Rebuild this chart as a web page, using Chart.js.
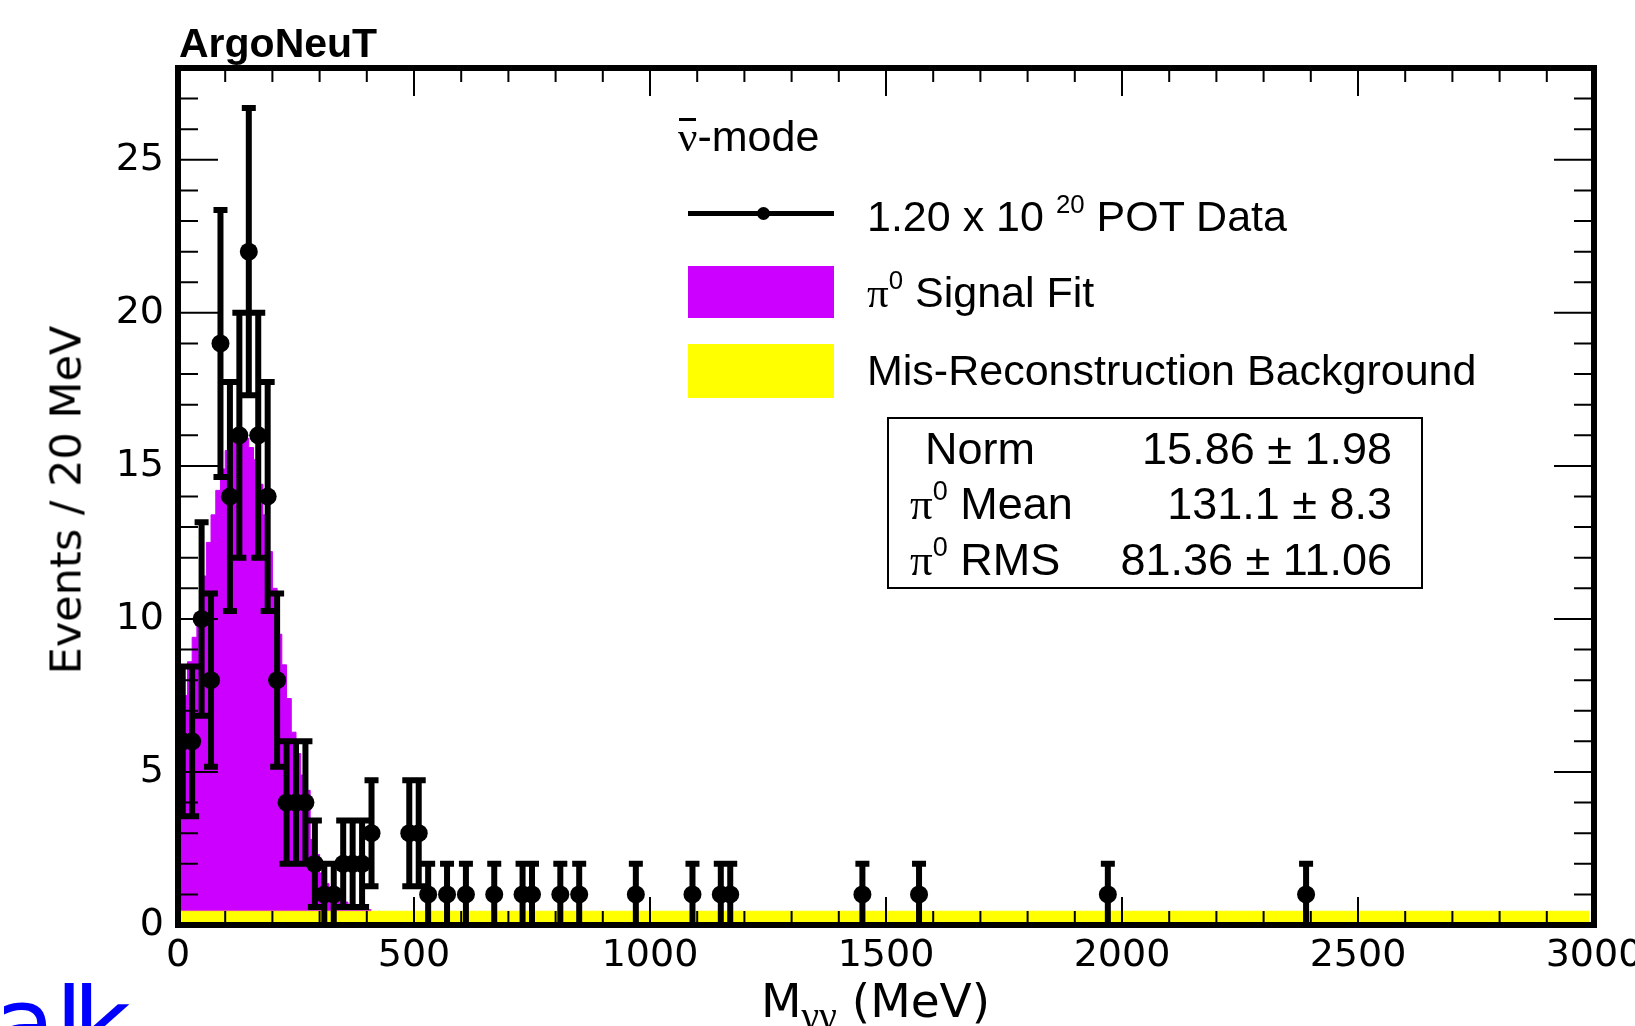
<!DOCTYPE html>
<html>
<head>
<meta charset="utf-8">
<script src="https://cdn.jsdelivr.net/npm/chart.js@4.4.1/dist/chart.umd.min.js"></script>
<style>
    html, body { margin: 0; padding: 0; background: #fff; overflow: hidden; }
    #wrap { position: relative; width: 1635px; height: 1026px; overflow: hidden; background: #fff; }
    #chart { position: absolute; left: 0; top: 0; }
    .txt { position: absolute; white-space: nowrap; line-height: 1; color: #000;
           font-family: 'Liberation Sans', Arial, sans-serif; font-size: 43px; }
    .stat { font-size: 45px; }
    .greek { font-family: 'Liberation Serif', serif; }
    .sup { font-size: 0.6em; position: relative; top: -0.7em; }
    .sub { font-size: 0.85em; position: relative; top: 0.3em; }
    .box { position: absolute; }
    .nubar { position: relative; display: inline-block; }
    .nubar .bar { position: absolute; left: 1px; right: 1px; top: 3px; height: 3px; background: #000; }
</style>
</head>
<body>
<div id="wrap">
    <canvas id="chart" width="1635" height="1026"></canvas>

    <div class="txt" style="left:179px; top:23px; font-size:41px; font-weight:bold;">ArgoNeuT</div>

    <!-- Legend -->
    <div class="txt" style="left:678px; top:115px;"><span class="nubar greek">ν<span class="bar"></span></span>-mode</div>
    <div class="box" style="left:688px; top:211px; width:146px; height:5px; background:#000;"></div>
    <div class="box" style="left:757px; top:207px; width:13px; height:13px; border-radius:50%; background:#000;"></div>
    <div class="txt" style="left:867px; top:195px;">1.20 x 10 <span class="sup">20</span> POT Data</div>

    <div class="box" style="left:688px; top:266px; width:146px; height:52px; background:#cc00ff;"></div>
    <div class="txt" style="left:867px; top:271px;"><span class="greek">π</span><span class="sup">0</span> Signal Fit</div>

    <div class="box" style="left:688px; top:344px; width:146px; height:54px; background:#ffff00;"></div>
    <div class="txt" style="left:867px; top:349px;">Mis-Reconstruction Background</div>

    <!-- Fit parameters box -->
    <div class="box" style="left:887px; top:417px; width:532px; height:168px; border:2px solid #000;"></div>
    <div class="txt stat" style="left:925px; top:426px;">Norm</div>
    <div class="txt stat" style="right:243px; top:426px;">15.86 ± 1.98</div>
    <div class="txt stat" style="left:910px; top:481px;"><span class="greek">π</span><span class="sup">0</span> Mean</div>
    <div class="txt stat" style="right:243px; top:481px;">131.1 ± 8.3</div>
    <div class="txt stat" style="left:910px; top:537px;"><span class="greek">π</span><span class="sup">0</span> RMS</div>
    <div class="txt stat" style="right:243px; top:537px;">81.36 ± 11.06</div>

    <!-- Axis titles -->
    <div class="txt" style="left:66px; top:500px; font-family:'DejaVu Sans', sans-serif; font-size:43px; transform: translate(-50%, -50%) rotate(-90deg);">Events / 20 MeV</div>
    <div class="txt" style="left:761px; top:977px; font-family:'DejaVu Sans', sans-serif; font-size:47px;">M<span class="sub greek">γγ</span> (MeV)</div>

    <div class="txt" style="left:-6px; top:975px; font-family:'DejaVu Sans', sans-serif; font-size:100px; color:#0000ff;">a<span style="letter-spacing:-10px;">l</span>k</div>
</div>

<script>
// ===================================
// ArgoNeuT pi0 invariant mass
// ===================================

// Data: 20 MeV bins (bin centres, MeV) and event counts
const massBins = [10, 30, 50, 70, 90, 110, 130, 150, 170, 190, 210, 230, 250, 270, 290, 310, 330,
                  350, 370, 390, 410, 490, 510, 530, 570, 610, 670, 730, 750, 810, 850, 970,
                  1090, 1150, 1170, 1450, 1570, 1970, 2390];
const eventCounts = [6, 6, 10, 8, 19, 14, 16, 22, 16, 14, 8, 4, 4, 4, 2, 1, 1,
                     2, 2, 2, 3, 3, 3, 1, 1, 1, 1, 1, 1, 1, 1, 1,
                     1, 1, 1, 1, 1, 1, 1];

// Signal fit drawn in 10 MeV steps from 0 MeV (top of the magenta area, events)
const fitStep = 10;
const signalFitTop = [3.5, 7.5, 8.6, 9.4, 10.2, 11.4, 12.5, 13.4, 14.2, 14.9,
                      15.5, 15.8, 16.0, 16.0, 15.9, 15.6, 15.2, 14.4, 13.4, 12.2,
                      11.0, 9.5, 8.5, 7.4, 6.3, 5.6, 4.9, 4.4, 2.8, 2.3,
                      1.7, 1.35, 1.1, 0.95, 0.85, 0.75, 0.68, 0.62, 0.57, 0.53, 0.5];

// Mis-reconstruction background (flat band)
const bkgRange = [0, 2990];
const bkgLevel = 0.45;

// Axes
const xTickValues = [0, 500, 1000, 1500, 2000, 2500, 3000];
const yTickValues = [0, 5, 10, 15, 20, 25];
const xRange = [0, 3000];
const yRange = [0, 28];

// Build step points (left bin edges + closing edge)
const signalPoints = signalFitTop.map((v, i) => ({ x: i * fitStep, y: v }));
signalPoints.push({ x: signalFitTop.length * fitStep, y: signalFitTop[signalFitTop.length - 1] });

const dataPoints = massBins.map((m, i) => ({ x: m, y: eventCounts[i] }));

// ROOT style: error bars, inside ticks on all sides, thick frame
const rootFramePlugin = {
    id: 'rootFrame',
    afterDatasetsDraw(chart) {
        const { ctx, chartArea: a, scales: { x, y } } = chart;
        ctx.save();

        // Poisson error bars with caps
        ctx.strokeStyle = '#000';
        ctx.lineWidth = 6;
        ctx.beginPath();
        dataPoints.forEach(p => {
            const err = Math.sqrt(p.y);
            const px = x.getPixelForValue(p.x);
            const top = y.getPixelForValue(p.y + err);
            const bot = y.getPixelForValue(Math.max(p.y - err, 0));
            ctx.moveTo(px, top); ctx.lineTo(px, bot);
            ctx.moveTo(px - 7, top); ctx.lineTo(px + 7, top);
            ctx.moveTo(px - 7, bot); ctx.lineTo(px + 7, bot);
        });
        ctx.stroke();

        // ticks
        ctx.lineWidth = 2;
        ctx.beginPath();
        for (let v = xRange[0] + 100; v < xRange[1]; v += 100) {
            const px = x.getPixelForValue(v);
            const len = v % 500 === 0 ? 28 : 14;
            ctx.moveTo(px, a.bottom); ctx.lineTo(px, a.bottom - len);
            ctx.moveTo(px, a.top); ctx.lineTo(px, a.top + len);
        }
        for (let v = yRange[0] + 1; v < yRange[1]; v++) {
            const py = y.getPixelForValue(v);
            const len = v % 5 === 0 ? 40 : 20;
            ctx.moveTo(a.left, py); ctx.lineTo(a.left + len, py);
            ctx.moveTo(a.right, py); ctx.lineTo(a.right - len, py);
        }
        ctx.stroke();

        // frame
        ctx.lineWidth = 6;
        ctx.strokeRect(a.left, a.top, a.right - a.left, a.bottom - a.top);
        ctx.restore();
    }
};

const tickFont = { family: 'DejaVu Sans', size: 38 };

new Chart(document.getElementById('chart'), {
    type: 'scatter',
    data: {
        datasets: [
            {
                label: 'Data',
                data: dataPoints,
                pointRadius: 9,
                pointBackgroundColor: '#000',
                pointBorderColor: '#000',
                pointBorderWidth: 0,
                order: 1
            },
            {
                type: 'line',
                label: 'Mis-Reconstruction Background',
                data: [{ x: bkgRange[0], y: bkgLevel }, { x: bkgRange[1], y: bkgLevel }],
                stepped: true,
                fill: 'origin',
                backgroundColor: '#ffff00',
                borderColor: '#ffff00',
                borderWidth: 1,
                pointRadius: 0,
                order: 2
            },
            {
                type: 'line',
                label: 'Signal Fit',
                data: signalPoints,
                stepped: true,
                fill: 'origin',
                backgroundColor: '#cc00ff',
                borderColor: '#cc00ff',
                borderWidth: 1,
                pointRadius: 0,
                order: 3
            }
        ]
    },
    options: {
        responsive: false,
        animation: false,
        layout: { padding: { left: 0, top: 68, right: 41, bottom: 0 } },
        plugins: { legend: { display: false }, tooltip: { enabled: false } },
        scales: {
            x: {
                type: 'linear',
                min: xRange[0],
                max: xRange[1],
                grid: { display: false, drawTicks: false },
                border: { display: false },
                ticks: { font: tickFont, color: '#000', padding: 8, autoSkip: false, maxRotation: 0,
                         callback: v => String(v) },
                afterBuildTicks: s => { s.ticks = xTickValues.map(v => ({ value: v })); },
                afterFit: s => { s.height = 101; s.paddingLeft = 0; s.paddingRight = 0; }
            },
            y: {
                type: 'linear',
                min: yRange[0],
                max: yRange[1],
                grid: { display: false, drawTicks: false },
                border: { display: false },
                ticks: { font: tickFont, color: '#000', padding: 14, callback: v => String(v) },
                afterBuildTicks: s => { s.ticks = yTickValues.map(v => ({ value: v })); },
                afterFit: s => { s.width = 178; s.paddingTop = 0; s.paddingBottom = 0; }
            }
        }
    },
    plugins: [rootFramePlugin]
});
</script>
</body>
</html>
